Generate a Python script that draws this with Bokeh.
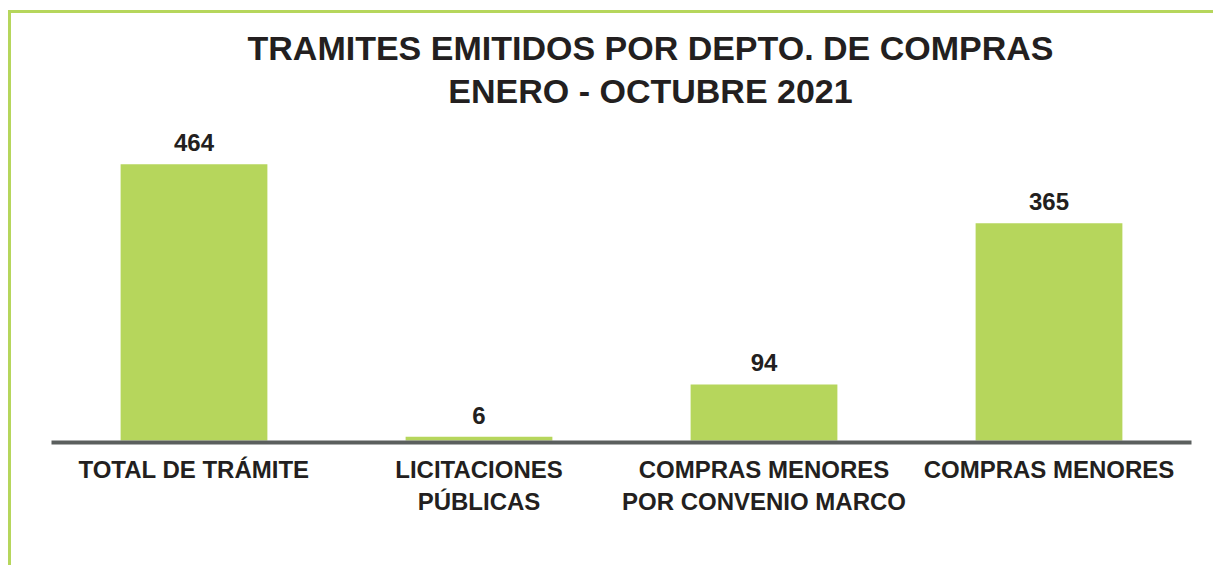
from bokeh.plotting import figure
from bokeh.models import ColumnDataSource, LabelSet, Label, Range1d, FixedTicker
from bokeh.core.properties import value
from bokeh.embed import file_html
from bokeh.resources import INLINE

categories = ["TOTAL DE TRÁMITE", "LICITACIONES\nPÚBLICAS",
              "COMPRAS MENORES\nPOR CONVENIO MARCO", "COMPRAS MENORES"]
values = [464, 6, 94, 365]
title_lines = ["TRAMITES EMITIDOS POR DEPTO. DE COMPRAS", "ENERO - OCTUBRE 2021"]

GREEN = "#b6d65c"
DARK = "#231f20"
FONT = "Liberation Sans"

xpos = list(range(len(categories)))
src = ColumnDataSource(dict(x=xpos, val=values, lbl=[str(v) for v in values]))

p = figure(x_range=Range1d(-0.5, len(categories) - 0.5), y_range=Range1d(-3.5, 717.5),
           width=1205, height=555, output_backend="svg", toolbar_location=None,
           min_border_left=40, min_border_right=25, min_border_top=0,
           min_border_bottom=126)
p.styles = {"border-left": f"3px solid {GREEN}", "border-top": f"3px solid {GREEN}",
            "margin-left": "8px", "margin-top": "10px"}
p.outline_line_color = None
p.background_fill_color = "white"
p.border_fill_color = "white"
p.xgrid.visible = False
p.ygrid.visible = False
p.yaxis.visible = False

p.vbar(x="x", top="val", bottom=0, width=0.515, source=src,
       fill_color=GREEN, line_color=None)

p.add_layout(LabelSet(x="x", y="val", text="lbl", source=src,
                      y_offset=13, text_align="center", text_baseline="alphabetic",
                      text_font=value(FONT), text_font_style="bold",
                      text_font_size="24px", text_color=DARK))

ax = p.xaxis[0]
ax.ticker = FixedTicker(ticks=xpos, minor_ticks=[])
ax.major_label_overrides = {i: c for i, c in zip(xpos, categories)}
ax.axis_line_color = "#5b5f5e"
ax.axis_line_width = 4
ax.major_tick_line_color = None
ax.minor_tick_line_color = None
ax.major_tick_out = 0
ax.major_tick_in = 0
ax.major_label_standoff = 13
ax.major_label_text_font = FONT
ax.major_label_text_font_style = "bold"
ax.major_label_text_font_size = "24px"
ax.major_label_text_color = DARK
ax.major_label_text_line_height = 1.2

for txt, yy in zip(title_lines, [395, 352]):
    p.add_layout(Label(x=599, y=yy, x_units="screen", y_units="screen", text=txt,
                       text_align="center", text_baseline="alphabetic",
                       text_font=FONT, text_font_style="bold",
                       text_font_size="34px", text_color=DARK))

open("out.html", "w").write(file_html(p, INLINE))
